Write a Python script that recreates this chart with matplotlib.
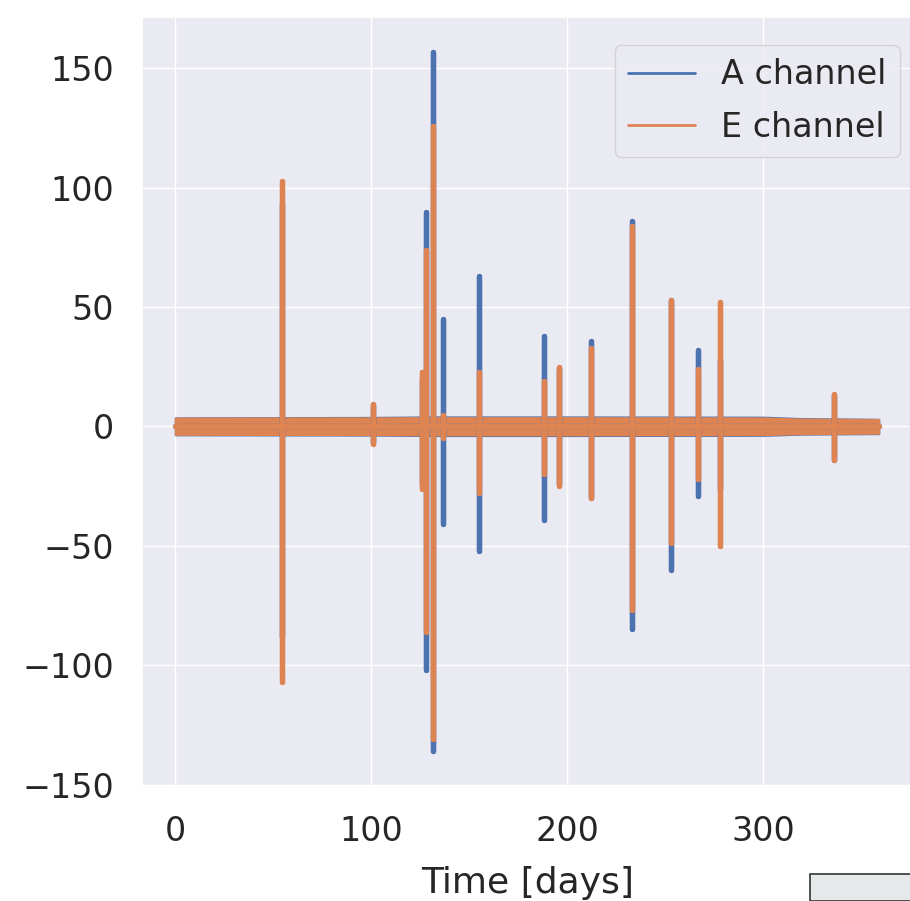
import matplotlib
matplotlib.use("Agg")
import matplotlib.pyplot as plt
from matplotlib.lines import Line2D
from matplotlib.patches import Rectangle
import seaborn as sns

# spike events: day, max, min
spike_days = [54.6, 101, 126, 128, 131.5, 136.5, 155, 188, 196, 212, 233, 253, 267, 278, 336]
a_hi = [93, 9, 20, 90, 157, 45, 63, 38, 24, 36, 86, 53, 32, 28, 13]
a_lo = [-88, -7, -24, -102, -136, -41, -52, -39, -24, -30, -85, -60, -29, -26, -14]
e_hi = [103, 9.5, 23, 74, 126, 5, 23, 19, 25, 33, 84, 53, 24, 52, 13.5]
e_lo = [-107, -7.5, -26, -86, -131, -5, -28, -20, -25, -30, -77, -49, -22, -50, -14]

# noise band envelope around zero
band_days = [0, 100, 130, 200, 300, 320, 359]
a_band_hi = [3.6, 3.8, 4.0, 4.0, 3.9, 3.3, 3.0]
a_band_lo = [-3.5, -3.6, -3.8, -3.8, -3.7, -3.2, -3.0]
e_band_hi = [3.5, 3.6, 3.7, 3.7, 3.6, 3.1, 2.9]
e_band_lo = [-3.3, -3.4, -3.5, -3.5, -3.4, -3.0, -2.8]

start_day, end_day = 0, 359


def spike_path(days, hi, lo):
    xs, ys = [start_day], [0]
    for d, h, l in zip(days, hi, lo):
        xs += [d, d, d, d]
        ys += [0, h, l, 0]
    xs.append(end_day)
    ys.append(0)
    return xs, ys


sns.set_theme(style="darkgrid")
blue, orange = sns.color_palette("deep")[0], sns.color_palette("deep")[1]

fig = plt.figure(figsize=(9.1, 9.01), dpi=100)
ax = fig.add_axes([142 / 910, 1 - 787 / 901, (913 - 142) / 910, (787 - 17) / 901])

ax.fill_between(band_days, a_band_lo, a_band_hi, color=blue, lw=1.5)
xa, ya = spike_path(spike_days, a_hi, a_lo)
ax.plot(xa, ya, color=blue, lw=3.8, solid_capstyle="round")

ax.fill_between(band_days, e_band_lo, e_band_hi, color=orange, lw=1.5)
xe, ye = spike_path(spike_days, e_hi, e_lo)
ax.plot(xe, ye, color=orange, lw=3.8, solid_capstyle="round")

ax.set_xlim(-17, 376.5)
ax.set_ylim(-151, 171.5)
ax.set_xticks([0, 100, 200, 300])
ax.set_yticks([-150, -100, -50, 0, 50, 100, 150])
ax.tick_params(labelsize=24, pad=14)
ax.set_xlabel("Time [days]", fontsize=26, labelpad=13)

handles = [Line2D([], [], color=blue, lw=2), Line2D([], [], color=orange, lw=2)]
ax.legend(handles, ["A channel", "E channel"], loc="upper right",
          bbox_to_anchor=((900 - 142) / 771, (787 - 45) / 770), borderaxespad=0,
          fontsize=24, handlelength=2.0, labelspacing=0.58)

# corner of a neighbouring panel peeking in at the bottom right
fig.patches.append(Rectangle((810 / 910, 0), 0.2, 27 / 901, transform=fig.transFigure,
                             facecolor="#e6e9e9", edgecolor="#333333", lw=1.2))

fig.savefig("out.png", dpi=100)
